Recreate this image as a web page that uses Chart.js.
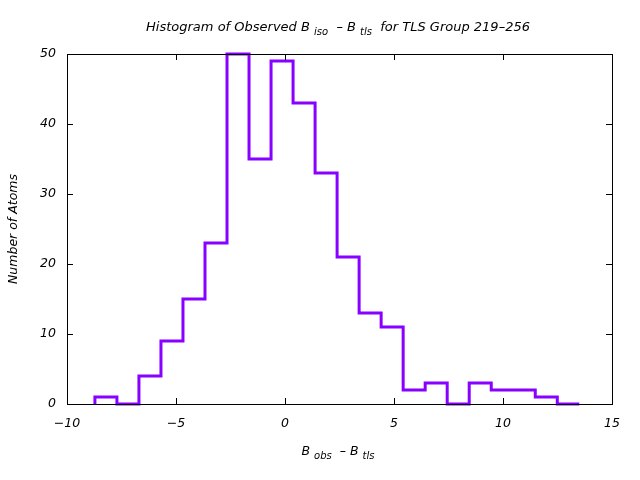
<!DOCTYPE html>
<html>
<head>
<meta charset="utf-8">
<script src="https://cdn.jsdelivr.net/npm/chart.js@4"></script>
<style>
html,body{margin:0;padding:0;background:#fff;}
#wrap{width:640px;height:480px;position:relative;}
</style>
</head>
<body>
<div id="wrap"><canvas id="c" width="640" height="480"></canvas></div>
<script>
// Histogram bin left edges (last value = right edge of final bin)
const binEdges = [-8.72, -7.71, -6.70, -5.69, -4.68, -3.67, -2.66, -1.65, -0.64, 0.37, 1.38, 2.39, 3.40, 4.41, 5.42, 6.43, 7.44, 8.45, 9.46, 10.47, 11.48, 12.49, 13.50];
const binCounts = [1, 0, 4, 9, 15, 23, 50, 35, 49, 43, 33, 21, 13, 11, 2, 3, 0, 3, 2, 2, 1, 0];
const xTicks = [-10, -5, 0, 5, 10, 15];
const yTicks = [0, 10, 20, 30, 40, 50];
const titleParts = [{t:'Histogram of Observed B '},{t:'iso',sub:true},{t:'  \u2013 B '},{t:'tls',sub:true},{t:'  for TLS Group 219\u2013256'}];
const xLabelParts = [{t:'B '},{t:'obs',sub:true},{t:'  \u2013 B '},{t:'tls',sub:true}];
const yLabel = 'Number of Atoms';

const FONT = '"DejaVu Sans", sans-serif';
const points = [{x: binEdges[0], y: 0}];
for (let i = 0; i < binCounts.length; i++) points.push({x: binEdges[i], y: binCounts[i]});
points.push({x: binEdges[binEdges.length - 1], y: binCounts[binCounts.length - 1]});

function drawRich(ctx, parts, cx, cy, size) {
  const subSize = Math.round(size * 0.8);
  let w = 0;
  parts.forEach(p => { ctx.font = 'italic ' + (p.sub ? subSize : size) + 'px ' + FONT; p.w = ctx.measureText(p.t).width; w += p.w; });
  let x = cx - w / 2;
  ctx.textAlign = 'left'; ctx.textBaseline = 'middle'; ctx.fillStyle = '#000';
  parts.forEach(p => { ctx.font = 'italic ' + (p.sub ? subSize : size) + 'px ' + FONT; ctx.fillText(p.t, x, cy + (p.sub ? 4 : 0)); x += p.w; });
}

const deco = {
  id: 'deco',
  afterDatasetsDraw(chart) {
    const ctx = chart.ctx, a = chart.chartArea, xs = chart.scales.x, ys = chart.scales.y;
    ctx.save();
    ctx.strokeStyle = '#000'; ctx.lineWidth = 1;
    ctx.beginPath();
    xTicks.forEach(v => { const px = Math.round(xs.getPixelForValue(v)) + 0.5;
      ctx.moveTo(px, a.bottom); ctx.lineTo(px, a.bottom - 6);
      ctx.moveTo(px, a.top); ctx.lineTo(px, a.top + 6); });
    yTicks.forEach(v => { const py = Math.round(ys.getPixelForValue(v)) + 0.5;
      ctx.moveTo(a.left, py); ctx.lineTo(a.left + 6, py);
      ctx.moveTo(a.right, py); ctx.lineTo(a.right - 6, py); });
    ctx.stroke();
    ctx.strokeRect(Math.round(a.left) + 0.5, Math.round(a.top) + 0.5, Math.round(a.right - a.left), Math.round(a.bottom - a.top));
    drawRich(ctx, titleParts, 338, 28, 13);
    drawRich(ctx, xLabelParts, 338, 452, 12.5);
    ctx.translate(14, 229); ctx.rotate(-Math.PI / 2);
    ctx.font = 'italic 12.5px ' + FONT; ctx.textAlign = 'center'; ctx.textBaseline = 'middle';
    ctx.fillText(yLabel, 0, 0);
    ctx.restore();
  }
};

new Chart(document.getElementById('c'), {
  type: 'line',
  data: { datasets: [{ data: points, borderColor: '#8800ff', borderWidth: 3, stepped: 'before', pointRadius: 0, fill: false, clip: false, borderJoinStyle: 'miter', borderCapStyle: 'butt' }] },
  options: {
    responsive: false, animation: false, devicePixelRatio: 1,
    layout: { padding: { left: 0, right: 28, top: 54, bottom: 0 } },
    plugins: { legend: { display: false }, tooltip: { enabled: false } },
    scales: {
      x: { type: 'linear', min: -10, max: 15,
        afterFit: s => { s.height = 76; },
        afterBuildTicks: s => { s.ticks = xTicks.map(v => ({ value: v })); },
        grid: { display: false, drawTicks: false }, border: { display: false },
        ticks: { padding: 12, color: '#000', font: { family: FONT, size: 12.5, style: 'italic' }, maxRotation: 0, autoSkip: false,
          callback: v => (v < 0 ? '\u2212' + Math.abs(v) : String(v)) } },
      y: { type: 'linear', min: 0, max: 50,
        afterFit: s => { s.width = 67; },
        afterBuildTicks: s => { s.ticks = yTicks.map(v => ({ value: v })); },
        grid: { display: false, drawTicks: false }, border: { display: false },
        ticks: { padding: 11, color: '#000', font: { family: FONT, size: 12.5, style: 'italic' } } }
    }
  },
  plugins: [deco]
});
</script>
</body>
</html>
